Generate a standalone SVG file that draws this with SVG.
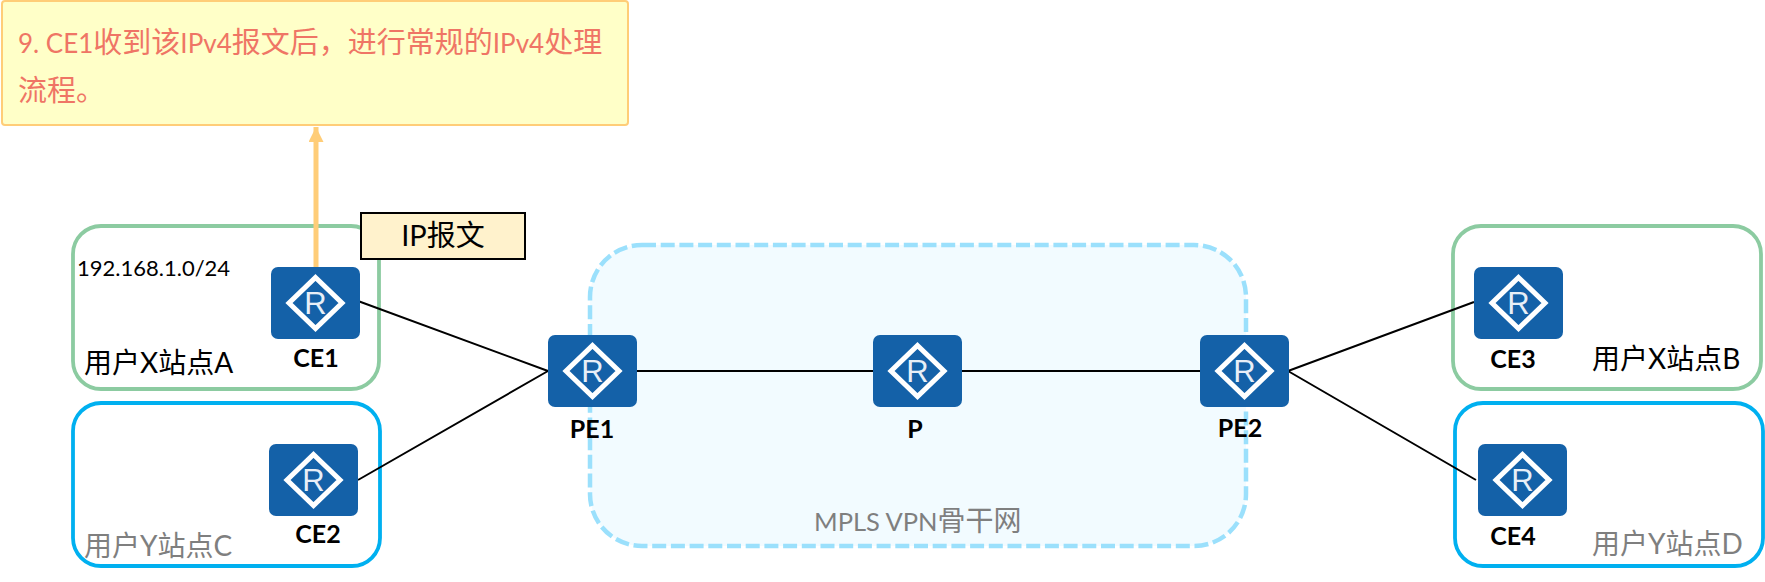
<svg xmlns="http://www.w3.org/2000/svg" width="1765" height="582" viewBox="0 0 1765 582">
<style>
text{font-family:"Lato","Noto Sans CJK SC",sans-serif}
.site{fill:none;stroke-width:3.800}
.g{stroke:#8ccba1}
.b{stroke:#00b0f0}
.lab{font-size:28px;fill:#000}
.gray{fill:#7f7f7f}
.nm{font-size:25px;font-weight:700;fill:#000;text-anchor:middle}
.link{stroke:#000;stroke-width:2;fill:none}
.rbox{fill:#1461a8}
.dia{fill:none;stroke:#fff;stroke-width:5}
.r{font-family:"Liberation Sans",sans-serif;font-size:31px;fill:#e8eff7;stroke:none;text-anchor:middle}
.note{font-size:29px;fill:#ef7565}
.lat{font-size:26px}
.lat2{font-size:25.500px}
</style>
<defs>
<marker id="ah" markerUnits="userSpaceOnUse" markerWidth="15" markerHeight="16" refX="15" refY="7.500" orient="auto"><path d="M0 0L15 7.500L0 15Z" fill="#ffcd78"/></marker>
<g id="router"><rect class="rbox" x="0" y="0" width="89" height="72" rx="7"/><path class="dia" d="M44.500 10.500L71 36L44.500 61.500L18 36Z"/><text class="r" x="44.500" y="47">R</text></g>
</defs>
<g id="backbone"><rect x="590" y="245" width="656" height="301" rx="52" fill="#f2fbff" stroke="#9be0fc" stroke-width="4.500" stroke-dasharray="14 4.700"/><text x="814" y="531" class="lab gray"><tspan class="lat2">MPLS VPN</tspan>骨干网</text></g>
<g id="site-a"><rect class="site g" x="73" y="226" width="306" height="163" rx="28"/><text class="lab" x="84" y="373">用户X站点A</text><text x="77" y="276" font-size="22" fill="#000">192.168.1.0/24</text></g>
<g id="site-c"><rect class="site b" x="73" y="403" width="307" height="163" rx="28"/><text class="lab gray" x="84" y="556">用户Y站点C</text></g>
<g id="site-b"><rect class="site g" x="1453" y="226" width="308" height="163" rx="28"/><text class="lab" x="1592" y="369">用户X站点B</text></g>
<g id="site-d"><rect class="site b" x="1455" y="403" width="308" height="163" rx="28"/><text class="lab gray" x="1592" y="554">用户Y站点D</text></g>
<g id="connectors">
<path class="link" d="M358 301L548 371M358 480L548 371M636 371H873M961 371H1200M1288 371L1474 302M1288 371L1476 480"/>
<path d="M316 267V127" fill="none" stroke="#ffcd78" stroke-width="5" marker-end="url(#ah)"/>
</g>
<g id="note"><rect x="2" y="1" width="626" height="124" rx="3" fill="#ffffc8" stroke="#ffcd78" stroke-width="2"/><text x="18" y="53" class="note"><tspan class="lat">9. CE1</tspan>收到该<tspan class="lat">IPv4</tspan>报文后，进行常规的<tspan class="lat">IPv4</tspan>处理</text><text x="18" y="101" class="note">流程。</text></g>
<g id="ip-packet"><rect x="361" y="213" width="164" height="46" fill="#fff2cc" stroke="#000" stroke-width="2"/><text x="443" y="246" text-anchor="middle" style="font-size:29px" fill="#000">IP报文</text></g>
<g id="CE1"><use href="#router" x="271" y="267"/><text class="nm" x="316" y="367">CE1</text></g>
<g id="CE2"><use href="#router" x="269" y="444"/><text class="nm" x="318" y="543">CE2</text></g>
<g id="PE1"><use href="#router" x="548" y="335"/><text class="nm" x="592" y="438">PE1</text></g>
<g id="P"><use href="#router" x="873" y="335"/><text class="nm" x="915" y="438">P</text></g>
<g id="PE2"><use href="#router" x="1200" y="335"/><text class="nm" x="1240" y="437">PE2</text></g>
<g id="CE3"><use href="#router" x="1474" y="267"/><text class="nm" x="1513" y="368">CE3</text></g>
<g id="CE4"><use href="#router" x="1478" y="444"/><text class="nm" x="1513" y="545">CE4</text></g>
</svg>
